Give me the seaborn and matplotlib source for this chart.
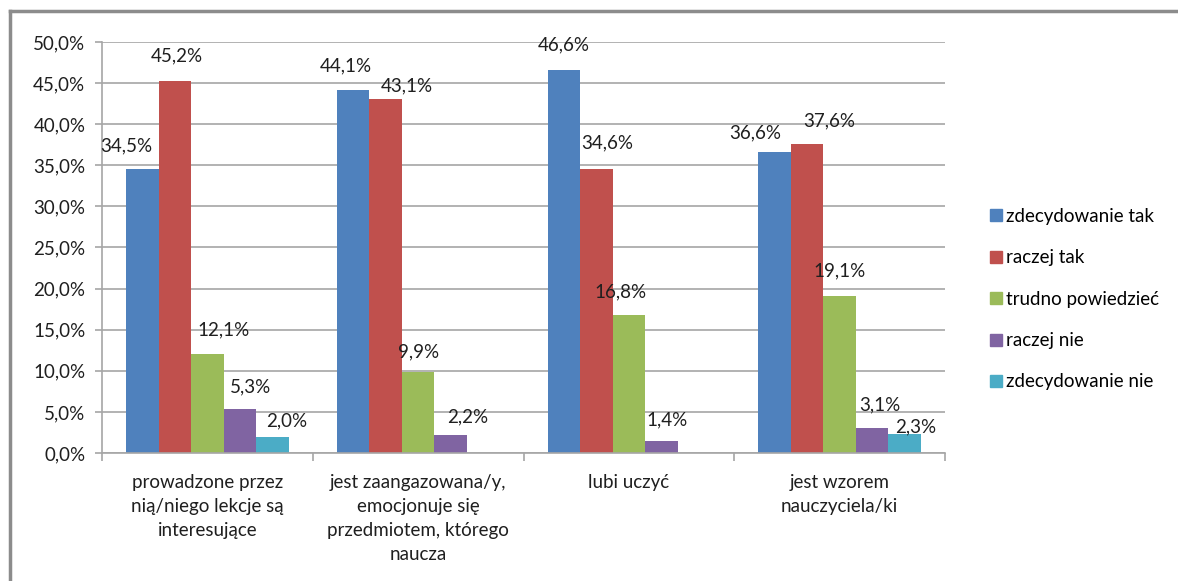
import numpy as np
import pandas as pd
import matplotlib
matplotlib.use("Agg")
import matplotlib.pyplot as plt
import seaborn as sns
from matplotlib.ticker import FuncFormatter, MultipleLocator, FixedLocator
from matplotlib.lines import Line2D

# ---------------------------------------------------------------------------
# Data
# ---------------------------------------------------------------------------
CATEGORIES = [
    "prowadzone przez\nnią/niego lekcje są\ninteresujące",
    "jest zaangazowana/y,\nemocjonuje się\nprzedmiotem, którego\nnaucza",
    "lubi uczyć",
    "jest wzorem\nnauczyciela/ki",
]
SERIES = ["zdecydowanie tak", "raczej tak", "trudno powiedzieć",
          "raczej nie", "zdecydowanie nie"]

zdecydowanie_tak = [34.5, 44.1, 46.6, 36.6]
raczej_tak = [45.2, 43.1, 34.6, 37.6]
trudno_powiedziec = [12.1, 9.9, 16.8, 19.1]
raczej_nie = [5.3, 2.2, 1.4, 3.1]
zdecydowanie_nie = [2.0, np.nan, np.nan, 2.3]

COLORS = ["#4F81BD", "#C0504D", "#9BBB59", "#8064A2", "#4BACC6"]

# label nudges (px right, px above bar top) mimicking Excel's placement
LABEL_NUDGE = {
    0: [(-16, 24), (-7, 25), (0, 25), (-19, 19)],
    1: [(2, 26), (21, 13), (11, 26), (22, 23)],
    2: [(16, 24), (0, 20), (-8, 23), (0, 25)],
    3: [(11, 23), (17, 18), (6, 22), (8, 23)],
    4: [(14, 16), (0, 0), (0, 0), (11, 7)],
}

values = [zdecydowanie_tak, raczej_tak, trudno_powiedziec, raczej_nie, zdecydowanie_nie]
rows = []
for s, vals in zip(SERIES, values):
    for c, v in zip(CATEGORIES, vals):
        rows.append({"category": c, "series": s, "value": v / 100})
df = pd.DataFrame(rows).dropna()

FS = 13.5
TEXT = "#1f1f1f"
plt.rcParams["font.family"] = ["Lato", "DejaVu Sans"]
plt.rcParams["font.size"] = FS

fig = plt.figure(figsize=(11.78, 5.81), dpi=100)
ax = fig.add_axes([102 / 1178, 128 / 581, 843 / 1178, 411 / 581])

sns.barplot(
    data=df, x="category", y="value", hue="series",
    order=CATEGORIES, hue_order=SERIES, palette=COLORS,
    width=0.77, errorbar=None, saturation=1, ax=ax, legend=True,
)

ax.set_ylim(0, 0.5)
ax.set_xlim(-0.5, len(CATEGORIES) - 0.5)
ax.yaxis.set_major_locator(MultipleLocator(0.05))
ax.yaxis.set_major_formatter(FuncFormatter(lambda v, _: f"{v * 100:.1f}%".replace(".", ",")))
ax.grid(axis="y", color="#a6a6a6", linewidth=1.2)
ax.set_axisbelow(True)
ax.set_xlabel("")
ax.set_ylabel("")

for side in ["top", "right"]:
    ax.spines[side].set_visible(False)
for side in ["left", "bottom"]:
    ax.spines[side].set_color("#a6a6a6")
    ax.spines[side].set_linewidth(1.2)

ax.tick_params(axis="y", length=5, color="#a6a6a6", width=1.2, labelsize=FS,
               labelcolor=TEXT, pad=7)
ax.tick_params(axis="x", which="major", length=0, labelsize=FS, labelcolor=TEXT, pad=15)
ax.xaxis.set_minor_locator(FixedLocator(np.arange(-0.5, len(CATEGORIES), 1.0)))
ax.tick_params(axis="x", which="minor", length=6, color="#a6a6a6", width=1.2)
for lab in ax.get_xticklabels():
    lab.set_linespacing(1.5)
    lab.set_horizontalalignment("center")

# data labels
for si, cont in enumerate(ax.containers):
    for patch in cont:
        h = patch.get_height()
        if not np.isfinite(h) or h == 0:
            continue
        xc = patch.get_x() + patch.get_width() / 2
        ci = int(round(xc))
        dx, dy = LABEL_NUDGE[si][ci]
        ax.annotate(
            f"{h * 100:.1f}%".replace(".", ","),
            xy=(xc, h), xytext=(dx * 0.72, dy * 0.72), textcoords="offset points",
            ha="center", va="center", fontsize=FS, color=TEXT,
        )

# legend
handles = [Line2D([], [], marker="s", linestyle="", markersize=8.5,
                  markerfacecolor=c, markeredgecolor=c) for c in COLORS]
ax.legend(handles, SERIES, loc="center left", bbox_to_anchor=(983 / 1178, 0.485),
          bbox_transform=fig.transFigure, frameon=False, fontsize=FS,
          handlelength=0.6, handletextpad=0.25, labelspacing=1.3, borderaxespad=0)

# outer frame (top and left edges visible)
fig.add_artist(Line2D([10 / 1178, 1.0], [1 - 11 / 581, 1 - 11 / 581],
                      transform=fig.transFigure, color="#8c8c8c", linewidth=2.5))
fig.add_artist(Line2D([10 / 1178, 10 / 1178], [0, 1 - 11 / 581],
                      transform=fig.transFigure, color="#8c8c8c", linewidth=2.5))

fig.savefig("out.png", dpi=100)
